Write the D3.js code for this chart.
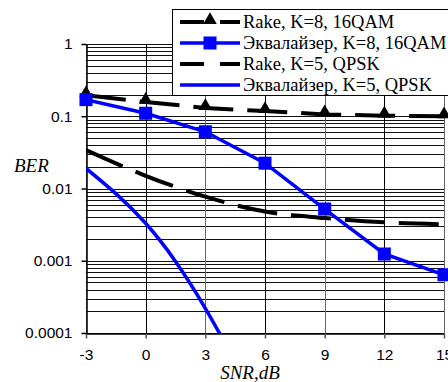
<!DOCTYPE html>
<meta charset='utf-8'>
<style>
body { margin: 0; background: #fff; }
svg { display: block; }
.tick text { font-family: 'Liberation Sans', Arial, sans-serif; font-size: 15.5px; fill: #000; }
.axis-title { font-family: 'Liberation Serif', 'Times New Roman', serif; font-style: italic; font-size: 19px; }
.legend text { font-family: 'Liberation Serif', 'Times New Roman', serif; font-size: 18.5px; }
</style>
<svg width='448' height='382'></svg>
<script src="https://cdn.jsdelivr.net/npm/d3@7"></script>
<script>

// SNR values (dB) and BER
const snr = [-3, 0, 3, 6, 9, 12, 15];
const rakeK8 = [0.195, 0.158, 0.13, 0.118, 0.106, 0.102, 0.1];
const eqK8 = [0.17, 0.11, 0.061, 0.0224, 0.0052, 0.00124, 0.00064];
const rakeK5 = [0.034, 0.015, 0.0077, 0.0048, 0.0039, 0.0034, 0.0032];
const eqK5Snr = [-3, -1.5, 0, 1.5, 3, 4.5];
const eqK5 = [0.019, 0.0085, 0.0033, 0.00098, 0.00022, 0.00004];

const xTicks = [-3, 0, 3, 6, 9, 12, 15];
const yTicks = [1, 0.1, 0.01, 0.001, 0.0001];
const yTickLabels = ['1', '0.1', '0.01', '0.001', '0.0001'];

const legendNames = ['Rake, K=8, 16QAM', 'Эквалайзер, K=8, 16QAM', 'Rake, K=5, QPSK', 'Эквалайзер, K=5, QPSK'];

const plotLeft = 86, plotRight = 444, plotTop = 44, plotBottom = 333;

const x = d3.scaleLinear().domain([-3, 15]).range([plotLeft, plotRight]);
const y = d3.scaleLog().domain([1e-4, 1]).range([plotBottom, plotTop]);

const svg = d3.select('svg');

svg.append('defs').append('clipPath').attr('id', 'plot')
  .append('rect')
  .attr('x', plotLeft).attr('y', plotTop)
  .attr('width', plotRight - plotLeft).attr('height', plotBottom - plotTop);

// grid: horizontal lines at every 1..9 x decade
const minor = [];
for (let e = -4; e < 0; e++) {
  for (let m = 1; m < 10; m++) minor.push(m * Math.pow(10, e));
}
minor.push(1);

const grid = svg.append('g').attr('stroke', '#111').attr('stroke-width', 1);
grid.selectAll('line.h')
  .data(minor)
  .join('line')
  .attr('class', 'h')
  .attr('x1', plotLeft).attr('x2', plotRight)
  .attr('y1', d => Math.round(y(d)) + 0.5)
  .attr('y2', d => Math.round(y(d)) + 0.5);

grid.selectAll('line.v')
  .data(xTicks)
  .join('line')
  .attr('class', 'v')
  .attr('y1', plotTop).attr('y2', plotBottom)
  .attr('x1', d => Math.round(x(d)) + 0.5)
  .attr('x2', d => Math.round(x(d)) + 0.5)
  .attr('stroke', (d, i) => i % 2 ? '#000' : '#666');

// axes
const xAxis = d3.axisBottom(x).tickValues(xTicks).tickFormat(d => String(d))
  .tickSize(5).tickSizeOuter(0).tickPadding(10);
svg.append('g')
  .attr('transform', `translate(0,${Math.round(y(1e-4)) + 0.5})`)
  .call(xAxis)
  .call(g => g.select('.domain').attr('stroke', '#000').attr('stroke-width', 1.5))
  .call(g => g.selectAll('.tick line').attr('stroke', '#555').attr('stroke-width', 1.5));

const yAxis = d3.axisLeft(y).tickValues(yTicks)
  .tickFormat((d, i) => yTickLabels[i]).tickSize(5).tickSizeOuter(0).tickPadding(9);
svg.append('g')
  .attr('transform', `translate(${Math.round(x(-3)) + 0.5},0)`)
  .call(yAxis)
  .call(g => g.select('.domain').attr('stroke', '#000').attr('stroke-width', 1.5))
  .call(g => g.selectAll('.tick line').attr('stroke', '#000').attr('stroke-width', 1.5));

svg.append('text').attr('class', 'axis-title')
  .attr('x', 14).attr('y', 172).text('BER');
svg.append('text').attr('class', 'axis-title')
  .attr('x', 250).attr('y', 379).attr('text-anchor', 'middle').text('SNR,dB');

// series
const series = [
  { xs: snr, ys: rakeK8, color: '#000', width: 4, dash: '40,14', marker: 'tri', curve: d3.curveLinear },
  { xs: snr, ys: eqK8, color: '#0000ff', width: 3.5, dash: null, marker: 'sq', curve: d3.curveLinear },
  { xs: snr, ys: rakeK5, color: '#000', width: 4, dash: '40,14', marker: null, curve: d3.curveMonotoneX },
  { xs: eqK5Snr, ys: eqK5, color: '#0000ff', width: 3.5, dash: null, marker: null, curve: d3.curveNatural }
];

const plot = svg.append('g').attr('clip-path', 'url(#plot)');

const tri = d3.symbol().type(d3.symbolTriangle).size(80);
const sq = d3.symbol().type(d3.symbolSquare).size(170);

series.forEach(s => {
  const pts = s.xs.map((v, i) => [v, s.ys[i]]);
  plot.append('path')
    .datum(pts)
    .attr('fill', 'none')
    .attr('stroke', s.color)
    .attr('stroke-width', s.width)
    .attr('stroke-dasharray', s.dash)
    .attr('d', d3.line().curve(s.curve).x(d => x(d[0])).y(d => y(d[1])));
});

// markers drawn unclipped so the edge ones show whole
series.forEach(s => {
  if (!s.marker) return;
  const pts = s.xs.map((v, i) => [v, s.ys[i]]);
  svg.append('g').selectAll('path')
    .data(pts)
    .join('path')
    .attr('transform', d => `translate(${x(d[0])},${y(d[1]) - (s.marker === 'tri' ? 2 : 0)})`)
    .attr('d', s.marker === 'tri' ? tri : sq)
    .attr('fill', s.color);
});

// legend
const legend = svg.append('g').attr('class', 'legend');
legend.append('rect')
  .attr('x', 172.5).attr('y', 9.5).attr('width', 290).attr('height', 86)
  .attr('fill', '#fff').attr('stroke', '#000').attr('stroke-width', 1);

const rowY = [22, 43, 64, 85];
series.forEach((s, i) => {
  const g = legend.append('g').attr('transform', `translate(0,${rowY[i]})`);
  g.append('line')
    .attr('x1', 180).attr('x2', 240).attr('y1', 0).attr('y2', 0)
    .attr('stroke', s.color).attr('stroke-width', s.width)
    .attr('stroke-dasharray', s.dash ? '24,16' : null);
  if (s.marker) {
    g.append('path')
      .attr('transform', `translate(210,${s.marker === 'tri' ? -2 : 0})`)
      .attr('d', s.marker === 'tri' ? tri : sq)
      .attr('fill', s.color);
  }
  g.append('text')
    .attr('x', 243).attr('y', 0).attr('dy', '0.32em')
    .text(legendNames[i]);
});

</script>
